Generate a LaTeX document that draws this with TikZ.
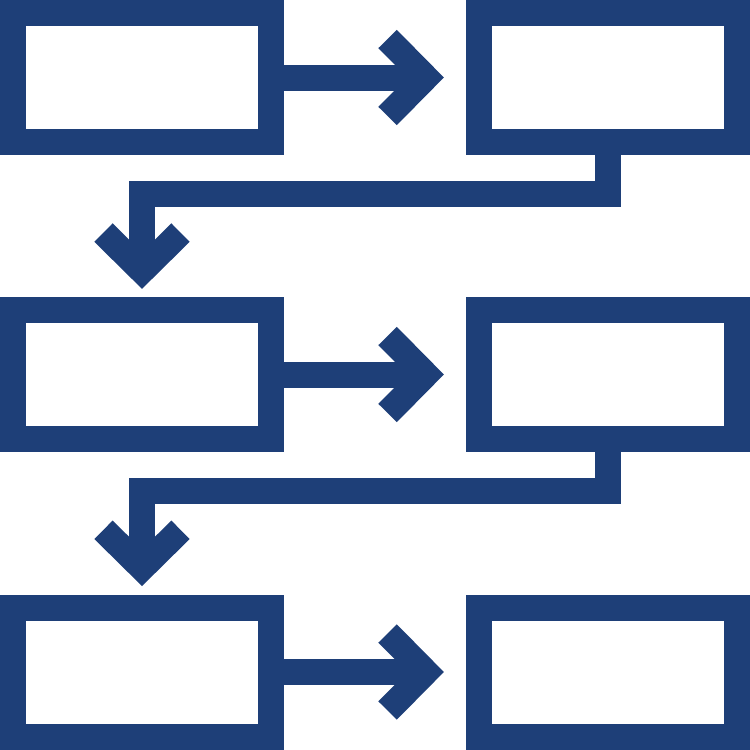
\documentclass[tikz,border=0pt]{standalone}
\usetikzlibrary{calc}
\definecolor{flowblue}{HTML}{1E3F78}
\begin{document}
\begin{tikzpicture}[x=1pt,y=-1pt,
  stepbox/.style={draw=flowblue,line width=26pt,fill=white,minimum width=258pt,minimum height=129pt,inner sep=0pt,rectangle},
  conn/.style={draw=flowblue,line width=26pt,line cap=butt,line join=miter},
  chev/.style={draw=flowblue,line width=26pt,line cap=butt,line join=miter}]
\useasboundingbox (0,0) rectangle (750,750);
% boxes
\node[stepbox] (a1) at (142,77.5) {};
\node[stepbox] (b1) at (608,77.5) {};
\node[stepbox] (a2) at (142,374.5) {};
\node[stepbox] (b2) at (608,374.5) {};
\node[stepbox] (a3) at (142,672) {};
\node[stepbox] (b3) at (608,672) {};
% horizontal arrows
\coordinate (t1) at (425.6,77.5);
\coordinate (t2) at (425.6,374.5);
\coordinate (t3) at (425.6,672);
\foreach \s/\t in {a1/t1,a2/t2,a3/t3}{
  \draw[conn] (\s.east) -- (\t);
  \draw[chev] (\t) ++(-38,-38.5) -- (\t) -- ++(-38,38.5);
}
% down connectors
\coordinate (m1) at (608,194);
\coordinate (d1) at (142,270.6);
\coordinate (m2) at (608,491);
\coordinate (d2) at (142,567.8);
\foreach \s/\m/\d in {b1/m1/d1,b2/m2/d2}{
  \draw[conn] (\s.south) -- (\m) -| (\d);
  \draw[chev] (\d) ++(-38.5,-38) -- (\d) -- ++(38.5,-38);
}
\end{tikzpicture}
\end{document}
